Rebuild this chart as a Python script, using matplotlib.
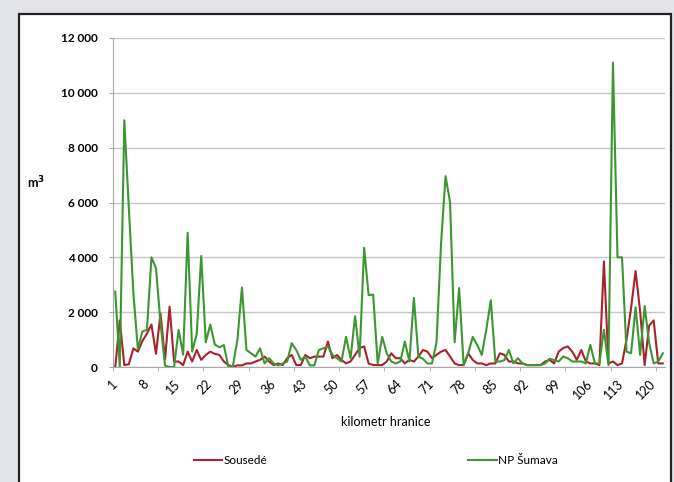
import numpy as np
import matplotlib.pyplot as plt
from matplotlib.patches import Rectangle
from matplotlib.ticker import FuncFormatter

plt.rcParams['font.family'] = ['Lato', 'DejaVu Sans']

# kilometr hranice 1..122
km = np.arange(1, 123)

# objem (m3) - Sousedé
sousede = [
    0, 1700, 70, 100, 680, 560, 950, 1220, 1550, 480,
    1950, 280, 2200, 200, 200, 70, 560, 200, 620, 260,
    440, 560, 480, 440, 200, 70, 0, 60, 60, 130,
    130, 200, 260, 380, 200, 70, 130, 70, 320, 440,
    70, 70, 440, 320, 380, 380, 380, 930, 320, 440,
    260, 130, 200, 440, 690, 750, 130, 70, 70, 70,
    200, 500, 320, 320, 130, 260, 200, 380, 620, 560,
    320, 440, 560, 620, 380, 130, 70, 70, 500, 260,
    130, 130, 70, 130, 130, 500, 440, 200, 200, 130,
    130, 70, 70, 70, 70, 200, 260, 130, 560, 690,
    750, 560, 260, 620, 200, 130, 130, 70, 3850, 130,
    200, 70, 130, 1000, 2150, 3500, 2030, 70, 1510, 1700,
    130, 130,
]

# objem (m3) - NP Šumava
sumava = [
    2750, 0, 9000, 5800, 2700, 650, 1300, 1350, 4000, 3600,
    1600, 50, 0, 0, 1350, 450, 4900, 560, 1200, 4050,
    900, 1550, 820, 720, 800, 0, 30, 1000, 2900, 620,
    500, 380, 680, 130, 320, 130, 60, 130, 200, 870,
    620, 260, 380, 60, 60, 620, 680, 750, 440, 320,
    200, 1100, 320, 1850, 380, 4350, 2620, 2640, 130, 1100,
    500, 200, 130, 200, 930, 200, 2520, 380, 300, 130,
    130, 900, 4500, 6960, 6000, 900, 2880, 70, 500, 1100,
    800, 440, 1360, 2430, 200, 200, 250, 620, 130, 320,
    130, 70, 70, 70, 70, 130, 300, 250, 200, 380,
    320, 200, 200, 200, 130, 810, 130, 130, 1360, 70,
    11100, 4000, 4000, 560, 500, 2180, 440, 2220, 870, 130,
    200, 500,
]

W, H = 674, 482
fig = plt.figure(figsize=(W / 100, H / 100), dpi=100, facecolor='#e3e4e9')
# bílý rámeček grafu
fig.patches.append(Rectangle((19 / W, -0.01), (671 - 19) / W, 1.01 - 14 / H,
                             transform=fig.transFigure, facecolor='white',
                             edgecolor='#222222', linewidth=1.6, zorder=-1))

ax = fig.add_axes([113 / W, 1 - 367 / H, (665 - 113) / W, (367 - 38) / H])
ax.plot(km, sousede, color='#a9222b', lw=1.5, label='Sousedé')
ax.plot(km, sumava, color='#3c9632', lw=1.5, label='NP Šumava')

ax.set_xlim(0.5, 122.5)
ax.set_ylim(0, 12000)
ax.set_yticks(range(0, 12001, 2000))
ax.yaxis.set_major_formatter(FuncFormatter(lambda v, p: f'{int(v):,}'.replace(',', ' ')))
ax.grid(axis='y', color='#c6c6c6', lw=1)
ax.set_axisbelow(True)

for s in ['top', 'right']:
    ax.spines[s].set_visible(False)
for s in ['left', 'bottom']:
    ax.spines[s].set_color('#a8a8a8')

ax.set_xticks(km[::7])
ax.set_xticklabels([str(k) for k in km[::7]], rotation=45, ha='right',
                   va='center', rotation_mode='anchor', fontsize=9)
ax.set_xticks(np.arange(0.5, 123, 10), minor=True)
ax.tick_params(axis='x', which='major', length=0, pad=11)
ax.tick_params(axis='x', which='minor', length=3, color='#a8a8a8')
ax.tick_params(axis='y', length=3, color='#a8a8a8', pad=8, labelsize=8.5)
for t in ax.get_yticklabels():
    t.set_fontweight('bold')

fig.text(36 / W, 1 - 183 / H, 'm$^\\mathbf{3}$', ha='center', va='center',
         fontsize=9, fontweight='bold')
fig.text(386 / W, 1 - 422 / H, 'kilometr hranice', ha='center', va='center',
         fontsize=9)

fig.legend(loc='center', bbox_to_anchor=(376 / W, 1 - 461 / H), ncol=2,
           frameon=False, fontsize=8.5, handlelength=2.4, handletextpad=0.15,
           columnspacing=17)

fig.savefig('out.png', dpi=100, facecolor=fig.get_facecolor())
